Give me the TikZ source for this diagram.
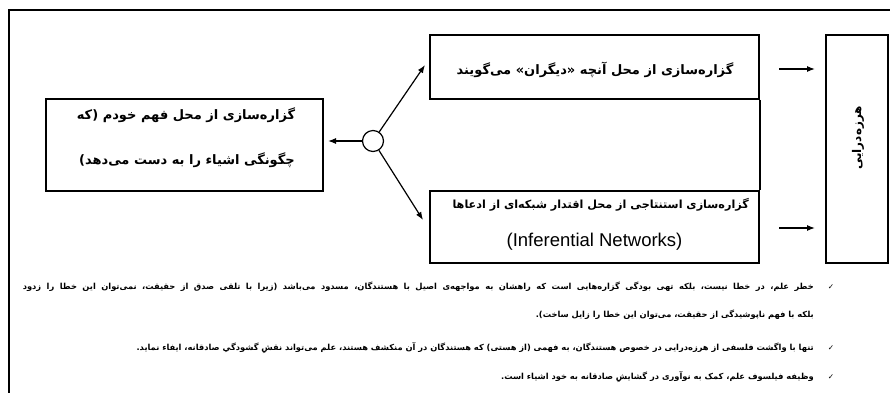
\documentclass[tikz,border=0pt]{standalone}
\usepackage{fontspec}
\setmainfont{Liberation Sans}
\newfontfamily\fafont[Script=Arabic]{DejaVu Sans}
\newfontfamily\symfont{DejaVu Sans}
\TeXXeTstate=1
\usetikzlibrary{arrows.meta}
\newcommand{\faR}[1]{\fafont\bfseries\beginR #1\endR}

\tikzset{
  box/.style={draw, line width=1.8pt, inner sep=0pt},
  fatext/.style={inner sep=0pt, font=\fontsize{13}{15}\selectfont},
  notetext/.style={inner sep=0pt, anchor=east, font=\fontsize{8.3}{10}\selectfont},
  tick/.style={inner sep=0pt, font=\symfont\fontsize{7.5}{8}\selectfont},
  link/.style={line width=1.2pt, -{Latex[length=8pt,width=6pt]}},
}

\begin{document}
\begin{tikzpicture}[x=1pt,y=-1pt]
\useasboundingbox (0,0) rectangle (890,392);
% outer frame, running off the right and bottom edges
\draw[line width=2.4pt] (9,420) -- (9,10) -- (920,10);

% boxes
\node[box, minimum width=277pt, minimum height=92pt] (self) at (184.5,145) {};
\node[box, minimum width=329pt, minimum height=64pt] (others) at (594.5,67) {};
\node[box, minimum width=329pt, minimum height=72pt] (infer) at (594.5,227) {};
\node[box, minimum width=62pt, minimum height=228pt] (hazard) at (857,149) {};
\draw[line width=1.8pt] (others.south east) -- (infer.north east);

% box texts
\node[fatext] (self1) at (186,115) {\faR{گزاره‌سازی از محل فهم خودم (که}};
\node[fatext] (self2) at (187,160) {\faR{چگونگی اشیاء را به دست می‌دهد)}};
\node[fatext] (oth) at (595,70) {\faR{گزاره‌سازی از محل آنچه «دیگران» می‌گویند}};
\node[fatext, anchor=east, font=\fontsize{11.2}{13}\selectfont] (inf1) at (749,205) {\faR{گزاره‌سازی استنتاجی از محل اقتدار شبکه‌ای از ادعاها}};
\node[inner sep=0pt, font=\fontsize{18.5}{20}\selectfont] (inf2) at (594.5,242) {(Inferential Networks)};
\node[fatext, rotate=90, font=\fontsize{12}{14}\selectfont] (haz) at (858,138) {\faR{هرزه‌درایی}};

% hub and connectors
\node[draw, circle, line width=1.2pt, minimum size=21pt, inner sep=0pt] (hub) at (373,141) {};
\coordinate (toSelf) at (328,141);
\coordinate (toOthers) at (425,65);
\coordinate (toInfer) at (423,220);
\draw[link] (hub) -- (toSelf);
\draw[link] (hub) -- (toOthers);
\draw[link] (hub) -- (toInfer);

\coordinate (a1s) at (779,69);
\coordinate (a1e) at (815,69);
\coordinate (a2s) at (779,228);
\coordinate (a2e) at (815,228);
\draw[link] (a1s) -- (a1e);
\draw[link] (a2s) -- (a2e);

% notes
\node[tick] (t1) at (831,287) {✓};
\node[tick] (t2) at (831,348) {✓};
\node[tick] (t3) at (831,377) {✓};
\node[notetext] (n1a) at (814,287) {\makebox[791pt][s]{\faR{خطر علم، در خطا نیست، بلکه تهی بودگی گزاره‌هایی است که راهشان به مواجهه‌ی اصیل با هستندگان، مسدود می‌باشد (زیرا با تلقی صدق از حقیقت، نمی‌توان این خطا را زدود}}};
\node[notetext] (n1b) at (814,315) {\faR{بلکه با فهم ناپوشیدگی از حقیقت، می‌توان این خطا را زایل ساخت).}};
\node[notetext] (n2) at (814,348) {\faR{تنها با واگشت فلسفی از هرزه‌درایی در خصوص هستندگان، به فهمی (از هستی) که هستندگان در آن منکشف هستند، علم می‌تواند نقشِ گشودگیِ صادقانه، ایفاء نماید.}};
\node[notetext] (n3) at (814,377) {\faR{وظیفه فیلسوف علم، کمک به نوآوری در گشایشِ صادقانه به خود اشیاء است.}};
\end{tikzpicture}
\end{document}
